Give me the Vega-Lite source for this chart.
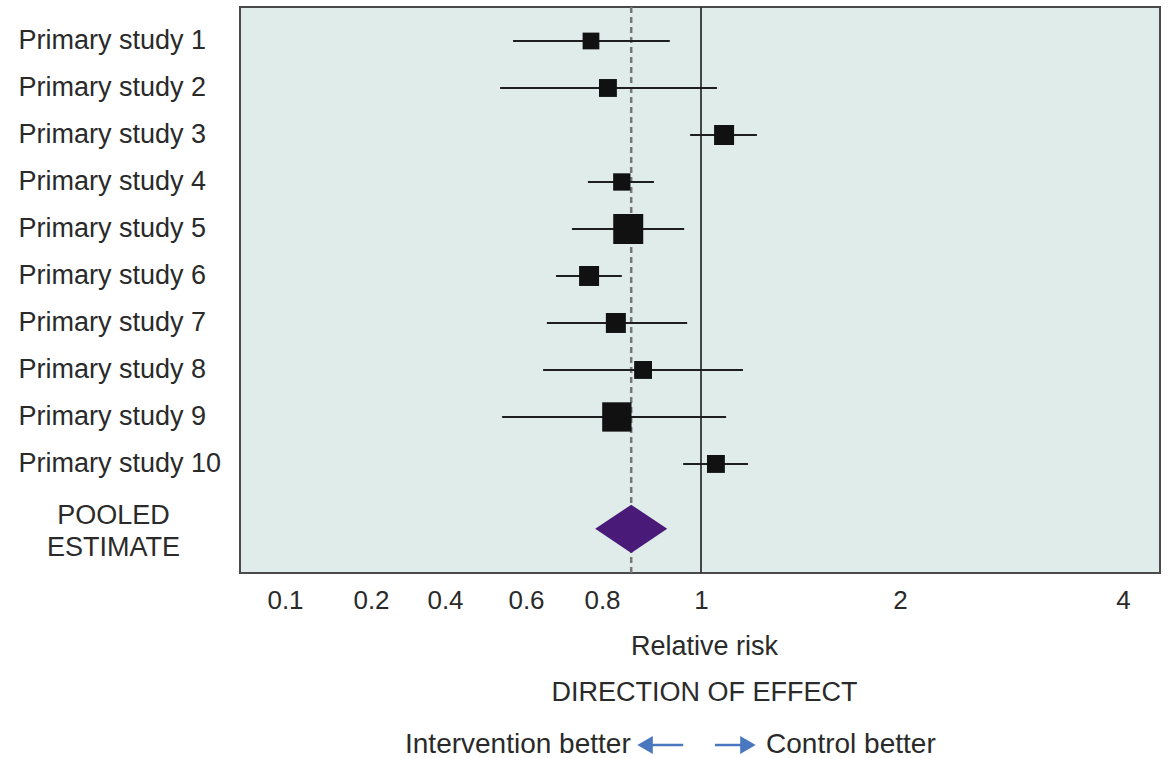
{
  "$schema": "https://vega.github.io/schema/vega-lite/v6.json",
  "width": 920,
  "height": 566,
  "autosize": {"type": "none"},
  "padding": {"left": 240, "top": 7, "right": 15, "bottom": 185},
  "background": "white",
  "datasets": {
    "studies": [
      {"study": "Primary study 1", "row": 1, "rr": 0.771, "lo": 0.568, "hi": 0.937, "weight": 7},
      {"study": "Primary study 2", "row": 2, "rr": 0.812, "lo": 0.536, "hi": 1.080, "weight": 8},
      {"study": "Primary study 3", "row": 3, "rr": 1.116, "lo": 0.978, "hi": 1.281, "weight": 10},
      {"study": "Primary study 4", "row": 4, "rr": 0.840, "lo": 0.763, "hi": 0.905, "weight": 7.5},
      {"study": "Primary study 5", "row": 5, "rr": 0.853, "lo": 0.721, "hi": 0.966, "weight": 22.5},
      {"study": "Primary study 6", "row": 6, "rr": 0.766, "lo": 0.679, "hi": 0.840, "weight": 10},
      {"study": "Primary study 7", "row": 7, "rr": 0.828, "lo": 0.655, "hi": 0.972, "weight": 10},
      {"study": "Primary study 8", "row": 8, "rr": 0.883, "lo": 0.645, "hi": 1.211, "weight": 8},
      {"study": "Primary study 9", "row": 9, "rr": 0.830, "lo": 0.541, "hi": 1.126, "weight": 21.5},
      {"study": "Primary study 10", "row": 10, "rr": 1.075, "lo": 0.964, "hi": 1.236, "weight": 8}
    ],
    "pooled": [
      {"study": "POOLED ESTIMATE", "row": 11.38, "rr": 0.859, "lo": 0.782, "hi": 0.931}
    ],
    "reference": [{"rr": 1}],
    "labelsLeft": [{"label": "Intervention better", "rr": 0.858, "row": 15.98}],
    "labelsRight": [{"label": "Control better", "rr": 1.327, "row": 15.98}],
    "arrows": [
      {"dir": "left", "from": 0.887, "to": 0.964, "head": 0.887, "row": 15.98},
      {"dir": "right", "from": 1.070, "to": 1.221, "head": 1.236, "row": 15.98}
    ]
  },
  "config": {
    "font": "Liberation Sans",
    "view": {"fill": "#dfece9", "stroke": "#4a4a4a", "strokeWidth": 2},
    "axis": {
      "labelFont": "Liberation Sans",
      "titleFont": "Liberation Sans",
      "labelColor": "#2a2a2a",
      "titleColor": "#2a2a2a",
      "labelFontSize": 26,
      "titleFontSize": 27,
      "titleFontWeight": "normal",
      "labelLimit": 400,
      "domain": false,
      "ticks": false,
      "grid": false
    }
  },
  "layer": [
    {
      "data": {"name": "reference"},
      "mark": {"type": "rule", "color": "#333333", "strokeWidth": 1.8},
      "encoding": {
        "x": {
          "field": "rr", "type": "quantitative",
          "scale": {"type": "linear", "domain": [0.1, 0.2, 0.4, 0.6, 0.8, 1, 2, 4], "range": [45, 131, 205, 286, 362, 461, 660, 883], "nice": false, "zero": false, "clamp": false},
          "axis": {"values": [0.1, 0.2, 0.4, 0.6, 0.8, 1, 2, 4], "format": "~g", "labelPadding": 27, "labelBaseline": "middle", "labelFlush": false, "labelOverlap": false, "tickSize": 0, "title": ["Relative risk", "DIRECTION OF EFFECT"], "titleLineHeight": 46, "titlePadding": 20}
        }
      }
    },
    {
      "data": {"name": "pooled"},
      "mark": {"type": "rule", "color": "#777777", "strokeWidth": 2.5, "strokeDash": [6, 4]},
      "encoding": {
        "x": {
          "field": "rr", "type": "quantitative",
          "scale": {"type": "linear", "domain": [0.1, 0.2, 0.4, 0.6, 0.8, 1, 2, 4], "range": [45, 131, 205, 286, 362, 461, 660, 883], "nice": false, "zero": false, "clamp": false},
          "axis": {"values": [0.1, 0.2, 0.4, 0.6, 0.8, 1, 2, 4], "format": "~g", "labelPadding": 27, "labelBaseline": "middle", "labelFlush": false, "labelOverlap": false, "tickSize": 0, "title": ["Relative risk", "DIRECTION OF EFFECT"], "titleLineHeight": 46, "titlePadding": 20}
        }
      }
    },
    {
      "encoding": {
        "y": {
          "field": "row", "type": "quantitative",
          "scale": {"domain": [0.277, 12.32], "reverse": true, "nice": false, "zero": false},
          "axis": {
            "values": [1, 2, 3, 4, 5, 6, 7, 8, 9, 10, 11.38],
            "labelExpr": "datum.value > 11 ? ['POOLED', 'ESTIMATE'] : 'Primary study ' + datum.value",
            "labelAlign": {"condition": {"test": "datum.value > 11", "value": "center"}, "value": "left"},
            "labelPadding": {"condition": {"test": "datum.value > 11", "value": 127}, "value": 222},
            "labelOffset": {"condition": {"test": "datum.value > 11", "value": -13}, "value": 0},
            "labelBaseline": "middle",
            "labelFontSize": 27,
            "labelLineHeight": 32,
            "labelFlush": false,
            "labelOverlap": false,
            "tickSize": 0,
            "title": null
          }
        }
      },
      "layer": [
        {
          "data": {"name": "studies"},
          "mark": {"type": "rule", "color": "#1e1e1e", "strokeWidth": 2},
          "encoding": {
            "x": {
              "field": "lo", "type": "quantitative",
              "scale": {"type": "linear", "domain": [0.1, 0.2, 0.4, 0.6, 0.8, 1, 2, 4], "range": [45, 131, 205, 286, 362, 461, 660, 883], "nice": false, "zero": false, "clamp": false},
              "axis": {"values": [0.1, 0.2, 0.4, 0.6, 0.8, 1, 2, 4], "format": "~g", "labelPadding": 27, "labelBaseline": "middle", "labelFlush": false, "labelOverlap": false, "tickSize": 0, "title": ["Relative risk", "DIRECTION OF EFFECT"], "titleLineHeight": 46, "titlePadding": 20}
            },
            "x2": {"field": "hi"}
          }
        },
        {
          "data": {"name": "studies"},
          "mark": {"type": "point", "shape": "square", "filled": true, "color": "#111111", "opacity": 1},
          "encoding": {
            "x": {
              "field": "rr", "type": "quantitative",
              "scale": {"type": "linear", "domain": [0.1, 0.2, 0.4, 0.6, 0.8, 1, 2, 4], "range": [45, 131, 205, 286, 362, 461, 660, 883], "nice": false, "zero": false, "clamp": false},
              "axis": {"values": [0.1, 0.2, 0.4, 0.6, 0.8, 1, 2, 4], "format": "~g", "labelPadding": 27, "labelBaseline": "middle", "labelFlush": false, "labelOverlap": false, "tickSize": 0, "title": ["Relative risk", "DIRECTION OF EFFECT"], "titleLineHeight": 46, "titlePadding": 20}
            },
            "size": {"field": "weight", "type": "quantitative", "scale": {"domain": [0, 25], "range": [0, 1000], "zero": true}, "legend": null}
          }
        },
        {
          "data": {"name": "pooled"},
          "mark": {"type": "point", "shape": "M -1 0 L 0 -0.67 L 1 0 L 0 0.67 Z", "size": 5184, "filled": true, "color": "#4a1a78", "opacity": 1},
          "encoding": {
            "x": {
              "field": "rr", "type": "quantitative",
              "scale": {"type": "linear", "domain": [0.1, 0.2, 0.4, 0.6, 0.8, 1, 2, 4], "range": [45, 131, 205, 286, 362, 461, 660, 883], "nice": false, "zero": false, "clamp": false},
              "axis": {"values": [0.1, 0.2, 0.4, 0.6, 0.8, 1, 2, 4], "format": "~g", "labelPadding": 27, "labelBaseline": "middle", "labelFlush": false, "labelOverlap": false, "tickSize": 0, "title": ["Relative risk", "DIRECTION OF EFFECT"], "titleLineHeight": 46, "titlePadding": 20}
            }
          }
        },
        {
          "data": {"name": "labelsLeft"},
          "mark": {"type": "text", "align": "right", "baseline": "middle", "fontSize": 28, "color": "#2a2a2a", "font": "Liberation Sans"},
          "encoding": {
            "x": {
              "field": "rr", "type": "quantitative",
              "scale": {"type": "linear", "domain": [0.1, 0.2, 0.4, 0.6, 0.8, 1, 2, 4], "range": [45, 131, 205, 286, 362, 461, 660, 883], "nice": false, "zero": false, "clamp": false},
              "axis": {"values": [0.1, 0.2, 0.4, 0.6, 0.8, 1, 2, 4], "format": "~g", "labelPadding": 27, "labelBaseline": "middle", "labelFlush": false, "labelOverlap": false, "tickSize": 0, "title": ["Relative risk", "DIRECTION OF EFFECT"], "titleLineHeight": 46, "titlePadding": 20}
            },
            "text": {"field": "label"}
          }
        },
        {
          "data": {"name": "labelsRight"},
          "mark": {"type": "text", "align": "left", "baseline": "middle", "fontSize": 28, "color": "#2a2a2a", "font": "Liberation Sans"},
          "encoding": {
            "x": {
              "field": "rr", "type": "quantitative",
              "scale": {"type": "linear", "domain": [0.1, 0.2, 0.4, 0.6, 0.8, 1, 2, 4], "range": [45, 131, 205, 286, 362, 461, 660, 883], "nice": false, "zero": false, "clamp": false},
              "axis": {"values": [0.1, 0.2, 0.4, 0.6, 0.8, 1, 2, 4], "format": "~g", "labelPadding": 27, "labelBaseline": "middle", "labelFlush": false, "labelOverlap": false, "tickSize": 0, "title": ["Relative risk", "DIRECTION OF EFFECT"], "titleLineHeight": 46, "titlePadding": 20}
            },
            "text": {"field": "label"}
          }
        },
        {
          "data": {"name": "arrows"},
          "mark": {"type": "rule", "color": "#4a78bf", "strokeWidth": 2.5},
          "encoding": {
            "x": {
              "field": "from", "type": "quantitative",
              "scale": {"type": "linear", "domain": [0.1, 0.2, 0.4, 0.6, 0.8, 1, 2, 4], "range": [45, 131, 205, 286, 362, 461, 660, 883], "nice": false, "zero": false, "clamp": false},
              "axis": {"values": [0.1, 0.2, 0.4, 0.6, 0.8, 1, 2, 4], "format": "~g", "labelPadding": 27, "labelBaseline": "middle", "labelFlush": false, "labelOverlap": false, "tickSize": 0, "title": ["Relative risk", "DIRECTION OF EFFECT"], "titleLineHeight": 46, "titlePadding": 20}
            },
            "x2": {"field": "to"}
          }
        },
        {
          "data": {"name": "arrows"},
          "mark": {"type": "point", "filled": true, "color": "#4a78bf", "opacity": 1, "size": 320},
          "encoding": {
            "x": {
              "field": "head", "type": "quantitative",
              "scale": {"type": "linear", "domain": [0.1, 0.2, 0.4, 0.6, 0.8, 1, 2, 4], "range": [45, 131, 205, 286, 362, 461, 660, 883], "nice": false, "zero": false, "clamp": false},
              "axis": {"values": [0.1, 0.2, 0.4, 0.6, 0.8, 1, 2, 4], "format": "~g", "labelPadding": 27, "labelBaseline": "middle", "labelFlush": false, "labelOverlap": false, "tickSize": 0, "title": ["Relative risk", "DIRECTION OF EFFECT"], "titleLineHeight": 46, "titlePadding": 20}
            },
            "shape": {"field": "dir", "type": "nominal", "scale": {"domain": ["left", "right"], "range": ["triangle-left", "triangle-right"]}, "legend": null}
          }
        }
      ]
    }
  ]
}
